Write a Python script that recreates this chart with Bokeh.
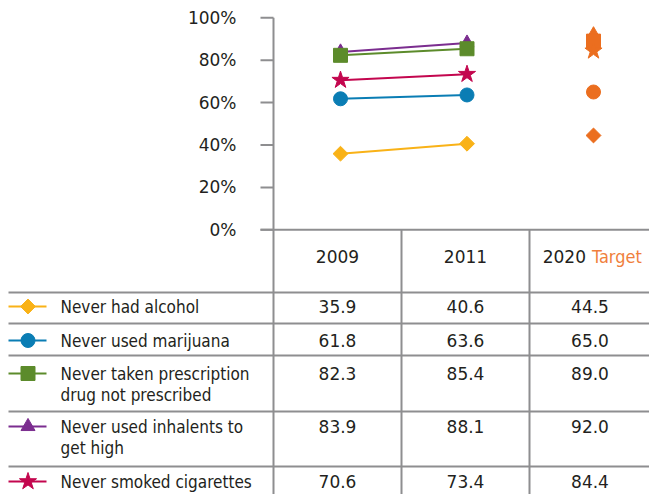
import numpy as np
from bokeh.plotting import figure
from bokeh.models import Range1d
from bokeh.core.properties import value
from bokeh.embed import file_html
from bokeh.resources import INLINE

# ---------------- data ----------------
years = ["2009", "2011"]
target_year = "2020"
target_word = "Target"
series_labels = [
    ["Never had alcohol"],
    ["Never used marijuana"],
    ["Never taken prescription", "drug not prescribed"],
    ["Never used inhalents to", "get high"],
    ["Never smoked cigarettes"],
]
values_2009 = [35.9, 61.8, 82.3, 83.9, 70.6]
values_2011 = [40.6, 63.6, 85.4, 88.1, 73.4]
values_target = [44.5, 65.0, 89.0, 92.0, 84.4]
y_ticks = [0, 20, 40, 60, 80, 100]
y_tick_labels = ["0%", "20%", "40%", "60%", "80%", "100%"]

# ---------------- styles ----------------
colors = ["#f9b217", "#0a7db4", "#5c8b2b", "#7b2d8f", "#c3064e"]
markers = ["square", "circle", "square", "triangle", "star"]
angles = [np.pi / 4, 0, 0, 0, 0]
sizes = [10.5, 14, 14, 14, 18]
TARGET_COLOR = "#eb6e1f"
TARGET_TEXT = "#f07f3c"
GRAY = "#8e8e90"
TEXT = "#231f20"
NUM_FONT = value("DejaVu Sans")
LBL_FONT = value("DejaVu Sans Condensed")
FS = "17px"

W, H = 649, 494

# main data ranges: columns 0,1,2 ; y in percent
X0, XS = 340.0, 126.5       # px of column 0, px per column
Y0, YS = 229.3, 2.12        # px of 0%, px per percent
x_range = Range1d((0 - X0) / XS, (W - X0) / XS)
y_range = Range1d((Y0 - H) / YS, (Y0 - 0) / YS)

p = figure(width=W, height=H, x_range=x_range, y_range=y_range,
           output_backend="svg", toolbar_location=None, min_border=0,
           x_axis_location=None, y_axis_location=None)
p.grid.visible = False
p.outline_line_color = None
p.background_fill_color = "white"
p.border_fill_color = "white"
p.extra_x_ranges = {"px": Range1d(0, W)}
p.extra_y_ranges = {"py": Range1d(H, 0)}

# ---------------- grid / table lines ----------------
col_sep = [273, 401, 529]
col_center = [337, 465, 589.5]
row_lines = [292, 323, 355, 411, 466]
row_y = [306, 340, 373, 426, 481]
row_y2 = [None, None, 394, 447, None]

# y-axis ticks and baseline (x in px, y in percent)
p.segment(x0=[260] * len(y_ticks), y0=y_ticks, x1=[273] * len(y_ticks), y1=y_ticks,
          x_range_name="px", line_color=GRAY, line_width=2)
p.segment(x0=[260], y0=[0], x1=[700], y1=[0], x_range_name="px",
          line_color=GRAY, line_width=2)
# vertical separators
p.segment(x0=[col_sep[0]], y0=[100], x1=[col_sep[0]], y1=[-300], x_range_name="px",
          line_color=GRAY, line_width=2)
p.segment(x0=col_sep[1:], y0=[0, 0], x1=col_sep[1:], y1=[-300, -300], x_range_name="px",
          line_color=GRAY, line_width=2)
# row lines
p.segment(x0=[8] * len(row_lines), y0=row_lines, x1=[700] * len(row_lines), y1=row_lines,
          x_range_name="px", y_range_name="py", line_color=GRAY, line_width=2)

# tick labels
p.text(x=[236] * len(y_ticks), y=y_ticks, text=y_tick_labels, x_range_name="px",
       text_align="right", text_baseline="middle", text_font=NUM_FONT,
       text_font_size=FS, text_color=TEXT)

# header
p.text(x=col_center[:2], y=[255.5, 255.5], text=years, x_range_name="px", y_range_name="py",
       text_align="center", text_baseline="middle", text_font=NUM_FONT,
       text_font_size=FS, text_color=TEXT)
p.text(x=[585.5], y=[255.5], text=[target_year], x_range_name="px", y_range_name="py",
       text_align="right", text_baseline="middle", text_font=NUM_FONT,
       text_font_size=FS, text_color=TEXT)
p.text(x=[591.5], y=[255.5], text=[target_word], x_range_name="px", y_range_name="py",
       text_align="left", text_baseline="middle", text_font=LBL_FONT,
       text_font_size="18px", text_color=TARGET_TEXT)

# ---------------- chart lines and markers ----------------
order = [3, 2, 4, 1, 0]
for i in order:
    p.line(x=[0, 1], y=[values_2009[i], values_2011[i]], line_color=colors[i], line_width=2)
for i in order:
    p.scatter(x=[0, 1], y=[values_2009[i], values_2011[i]], marker=markers[i],
              size=sizes[i], angle=angles[i], fill_color=colors[i], line_color=colors[i])
    p.scatter(x=[2], y=[values_target[i]], marker=markers[i], size=sizes[i],
              angle=angles[i], fill_color=TARGET_COLOR, line_color=TARGET_COLOR)

# ---------------- table rows ----------------
for i in range(5):
    y1 = row_y[i]
    p.segment(x0=[8], y0=[y1], x1=[46], y1=[y1], x_range_name="px", y_range_name="py",
              line_color=colors[i], line_width=2)
    p.scatter(x=[27.5], y=[y1], marker=markers[i], size=sizes[i], angle=angles[i],
              fill_color=colors[i], line_color=colors[i],
              x_range_name="px", y_range_name="py")
    p.text(x=[60], y=[y1], text=[series_labels[i][0]], x_range_name="px", y_range_name="py",
           text_align="left", text_baseline="middle", text_font=LBL_FONT,
           text_font_size=FS, text_color=TEXT)
    if len(series_labels[i]) > 1:
        p.text(x=[60], y=[row_y2[i]], text=[series_labels[i][1]], x_range_name="px",
               y_range_name="py", text_align="left", text_baseline="middle",
               text_font=LBL_FONT, text_font_size=FS, text_color=TEXT)
    vals = ["%.1f" % values_2009[i], "%.1f" % values_2011[i], "%.1f" % values_target[i]]
    p.text(x=col_center, y=[y1] * 3, text=vals, x_range_name="px", y_range_name="py",
           text_align="center", text_baseline="middle", text_font=NUM_FONT,
           text_font_size=FS, text_color=TEXT)

open("out.html", "w").write(file_html(p, INLINE))
